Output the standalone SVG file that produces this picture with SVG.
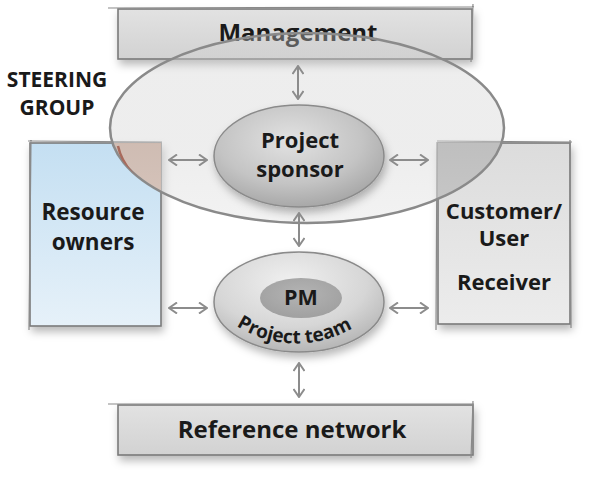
<svg xmlns="http://www.w3.org/2000/svg" width="600" height="481" viewBox="0 0 600 481">
<defs>
<style>
.lbl{font-family:"Open Sans","Liberation Sans",sans-serif;font-weight:700;fill:#1a1a1a;text-anchor:middle}
.box{stroke:#7a7a7a;stroke-width:1.6}
.sk{stroke:#8a8a8a;stroke-width:1.2;fill:none}
.conn{stroke:#8c8c8c;stroke-width:2;fill:none;marker-start:url(#ah);marker-end:url(#ah)}
</style>
<marker id="ah" viewBox="0 0 10 12" refX="9" refY="6" markerWidth="10" markerHeight="12" markerUnits="userSpaceOnUse" orient="auto-start-reverse">
<path d="M1 0.5 L9 6 L1 11.5" fill="none" stroke="#8c8c8c" stroke-width="2"/>
</marker>
<filter id="sh" x="-20%" y="-20%" width="140%" height="150%">
<feDropShadow dx="2" dy="5" stdDeviation="4" flood-color="#000" flood-opacity="0.28"/>
</filter>
<linearGradient id="gbar" x1="0" y1="0" x2="0" y2="1">
<stop offset="0" stop-color="#e2e2e2"/><stop offset="1" stop-color="#d2d2d2"/>
</linearGradient>
<linearGradient id="gblue" x1="0" y1="0" x2="0" y2="1">
<stop offset="0" stop-color="#c4dff2"/><stop offset="1" stop-color="#e6f1f9"/>
</linearGradient>
<linearGradient id="ggray" x1="0" y1="0" x2="0" y2="1">
<stop offset="0" stop-color="#dcdcdc"/><stop offset="1" stop-color="#ececec"/>
</linearGradient>
<linearGradient id="gbig" x1="0" y1="0" x2="0" y2="1">
<stop offset="0" stop-color="#cfcfcf" stop-opacity="0.35"/><stop offset="0.6" stop-color="#d8d8d8" stop-opacity="0.45"/><stop offset="1" stop-color="#e6e6e6" stop-opacity="0.5"/>
</linearGradient>
<radialGradient id="gsp" cx="0.45" cy="0.35" r="0.7">
<stop offset="0" stop-color="#e2e2e2"/><stop offset="0.6" stop-color="#c4c4c4"/><stop offset="1" stop-color="#a2a2a2"/>
</radialGradient>
<radialGradient id="gpm" cx="0.45" cy="0.3" r="0.75">
<stop offset="0" stop-color="#f0f0f0"/><stop offset="0.6" stop-color="#d6d6d6"/><stop offset="1" stop-color="#b0b0b0"/>
</radialGradient>
<radialGradient id="gpmi" cx="0.5" cy="0.4" r="0.6">
<stop offset="0" stop-color="#b4b4b4"/><stop offset="1" stop-color="#a0a0a0"/>
</radialGradient>
<clipPath id="cbig"><ellipse cx="307" cy="128" rx="197" ry="95"/></clipPath>
</defs>

<g id="management">
<rect class="box" x="118" y="9" width="354" height="50" fill="url(#gbar)" filter="url(#sh)"/>
<path class="sk" d="M108 8 L474 7 M473 4 L471 62"/>
<text class="lbl" x="298" y="41" font-size="24">Management</text>
</g>

<g id="resource-owners">
<rect class="box" x="30" y="143" width="131" height="183" fill="url(#gblue)" filter="url(#sh)"/>
<path class="sk" d="M28 141 L162 142 M31 140 L29 330"/>
<rect x="30" y="143" width="131" height="183" fill="#c8a28f" clip-path="url(#cbig)" opacity="0.95"/>
<text class="lbl" x="93" y="220" font-size="22.5">Resource</text>
<text class="lbl" x="93" y="250" font-size="22.5">owners</text>
</g>

<g id="customer-user">
<rect class="box" x="438" y="143" width="132" height="181" fill="url(#ggray)" filter="url(#sh)"/>
<path class="sk" d="M437 141 L572 142 M570 140 L571 328 M437 142 L436 330"/>
<rect x="438" y="143" width="132" height="181" fill="#ababab" clip-path="url(#cbig)"/>
<text class="lbl" x="504" y="219" font-size="22">Customer/</text>
<text class="lbl" x="504" y="246" font-size="22">User</text>
<text class="lbl" x="504" y="290" font-size="22">Receiver</text>
</g>

<g id="reference-network">
<rect class="box" x="118" y="405" width="355" height="50" fill="url(#gbar)" filter="url(#sh)"/>
<path class="sk" d="M108 404 L474 404 M473 401 L471 458"/>
<text class="lbl" x="292" y="438" font-size="24">Reference network</text>
</g>

<g id="steering-group">
<ellipse cx="307" cy="128" rx="197" ry="95" fill="url(#gbig)" stroke="#8a8a8a" stroke-width="2.5"/>
<path d="M118 146 A197 95 0 0 0 161 196" fill="none" stroke="#a86a5c" stroke-width="2.5" clip-path="url(#cbig)"/>
<text class="lbl" x="57" y="87" font-size="21">STEERING</text>
<text class="lbl" x="57" y="115" font-size="21">GROUP</text>
</g>

<g id="project-sponsor">
<ellipse cx="299" cy="156" rx="85" ry="51" fill="url(#gsp)" stroke="#8a8a8a" stroke-width="1.5" filter="url(#sh)"/>
<text class="lbl" x="300" y="148" font-size="22">Project</text>
<text class="lbl" x="300" y="177" font-size="22">sponsor</text>
</g>

<g id="pm-project-team">
<ellipse cx="299" cy="302" rx="85" ry="50" fill="url(#gpm)" stroke="#8a8a8a" stroke-width="1.5" filter="url(#sh)"/>
<ellipse cx="301" cy="298" rx="41" ry="20" fill="url(#gpmi)"/>
<text class="lbl" x="301" y="305" font-size="21.5">PM</text>
<path id="arcpt" d="M216 309 A110 110 0 0 0 376 309" fill="none"/>
<text class="lbl" font-size="19"><textPath href="#arcpt" startOffset="49%">Project team</textPath></text>
</g>

<g id="connectors">
<path class="conn" d="M298 66 L298 99"/>
<path class="conn" d="M299 213 L299 246"/>
<path class="conn" d="M299 363 L299 397"/>
<path class="conn" d="M169 160 L207 160"/>
<path class="conn" d="M390 160 L428 160"/>
<path class="conn" d="M169 308 L207 308"/>
<path class="conn" d="M390 308 L428 308"/>
</g>
</svg>
